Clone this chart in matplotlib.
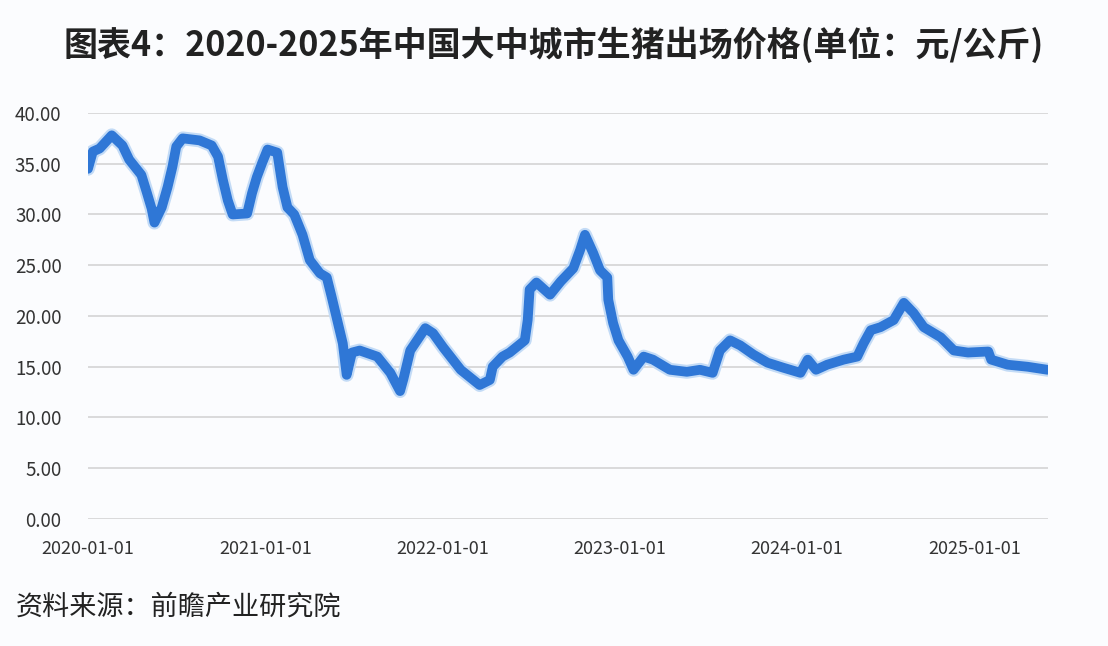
import matplotlib
matplotlib.use("Agg")
import matplotlib.pyplot as plt
import matplotlib.dates as mdates
import pandas as pd

plt.rcParams['font.family'] = ['Noto Sans CJK SC', 'DejaVu Sans']

# 生猪出场价格 (元/公斤)
dates = [
    "2020-01-01", "2020-01-11", "2020-01-25", "2020-02-19", "2020-03-12", "2020-03-26",
    "2020-04-20", "2020-05-01", "2020-05-11", "2020-05-17", "2020-06-01", "2020-06-13",
    "2020-06-23", "2020-07-01", "2020-07-14", "2020-08-18", "2020-09-12", "2020-09-25",
    "2020-10-05", "2020-10-15", "2020-10-25", "2020-11-24", "2020-12-04", "2020-12-14",
    "2020-12-25", "2021-01-05", "2021-01-25", "2021-02-05", "2021-02-15", "2021-03-01",
    "2021-03-18", "2021-04-02", "2021-04-23", "2021-05-07", "2021-05-17", "2021-05-30",
    "2021-06-09", "2021-06-17", "2021-06-28", "2021-07-14", "2021-08-19", "2021-09-15",
    "2021-10-05", "2021-10-12", "2021-10-26", "2021-11-26", "2021-12-12", "2022-01-02",
    "2022-02-07", "2022-03-18", "2022-04-08", "2022-04-14", "2022-05-04", "2022-05-19",
    "2022-06-19", "2022-06-25", "2022-06-29", "2022-07-13", "2022-08-10", "2022-09-01",
    "2022-09-27", "2022-10-11", "2022-10-21", "2022-11-07", "2022-11-21", "2022-12-06",
    "2022-12-08", "2022-12-18", "2022-12-29", "2023-01-17", "2023-01-29", "2023-02-19",
    "2023-03-10", "2023-04-14", "2023-05-19", "2023-06-15", "2023-07-11", "2023-07-26",
    "2023-08-16", "2023-09-06", "2023-10-03", "2023-11-01", "2023-12-04", "2024-01-08",
    "2024-01-23", "2024-02-09", "2024-03-03", "2024-04-06", "2024-05-04", "2024-05-17",
    "2024-06-01", "2024-06-21", "2024-07-18", "2024-08-08", "2024-08-28", "2024-09-18",
    "2024-10-23", "2024-11-19", "2024-12-18", "2025-01-29", "2025-02-04", "2025-03-10",
    "2025-04-20", "2025-05-31",
]
prices = [
    34.5, 36.2, 36.5, 37.8, 36.8, 35.4,
    33.9, 32.2, 30.6, 29.2, 30.7, 32.7,
    34.7, 36.7, 37.5, 37.3, 36.8, 35.7,
    33.4, 31.4, 30.0, 30.1, 32.1, 33.7,
    35.1, 36.4, 36.1, 32.7, 30.7, 30.0,
    28.0, 25.5, 24.2, 23.8, 21.9, 19.3,
    17.3, 14.2, 16.4, 16.6, 16.0, 14.4,
    12.6, 13.8, 16.6, 18.8, 18.3, 16.9,
    14.7, 13.2, 13.7, 15.0, 16.0, 16.4,
    17.6, 19.6, 22.6, 23.3, 22.1, 23.4,
    24.7, 26.5, 28.0, 26.2, 24.5, 23.8,
    21.6, 19.3, 17.6, 16.0, 14.7, 16.0,
    15.7, 14.7, 14.5, 14.7, 14.4, 16.6,
    17.6, 17.1, 16.2, 15.4, 14.9, 14.4,
    15.7, 14.7, 15.2, 15.7, 16.0, 17.3,
    18.6, 18.9, 19.6, 21.3, 20.3, 18.9,
    17.9, 16.6, 16.4, 16.5, 15.7, 15.2,
    15.0, 14.7,
]
x = pd.to_datetime(dates)

yticks = [0, 5, 10, 15, 20, 25, 30, 35, 40]
xticks = pd.to_datetime(["2020-01-01", "2021-01-01", "2022-01-01",
                         "2023-01-01", "2024-01-01", "2025-01-01"])

fig = plt.figure(figsize=(11.08, 6.46), dpi=100)
fig.patch.set_facecolor("#fbfcfe")
ax = fig.add_axes([0.0794, 0.1966, 0.866, 0.6285])
ax.set_facecolor("#fbfcfe")

# light halo under the thick line
ax.plot(x, prices, color="#c3dbf6", lw=10, solid_joinstyle="round",
        solid_capstyle="round", zorder=2)
ax.plot(x, prices, color="#2f77d6", lw=7, solid_joinstyle="round",
        solid_capstyle="round", zorder=3)

ax.set_ylim(0, 40)
ax.set_yticks(yticks)
ax.yaxis.set_major_formatter(plt.FormatStrFormatter("%.2f"))
ax.set_xlim(x[0], x[-1])
ax.set_xticks(xticks)
ax.xaxis.set_major_formatter(mdates.DateFormatter("%Y-%m-%d"))

ax.grid(axis="y", color="#d4d4d4", lw=1.2)
ax.set_axisbelow(True)
for s in ax.spines.values():
    s.set_visible(False)
ax.tick_params(axis="both", length=0, labelcolor="#333333")
ax.tick_params(axis="y", pad=19, labelsize=13.5)
ax.tick_params(axis="x", pad=15, labelsize=13)

fig.text(0.5, 0.93, "图表4：2020-2025年中国大中城市生猪出场价格(单位：元/公斤)",
         ha="center", va="center", fontsize=24.5, fontweight="bold", color="#222222")
fig.text(0.014, 0.06, "资料来源：前瞻产业研究院", ha="left", va="center",
         fontsize=19.5, color="#222222")

fig.savefig("out.png", dpi=100, facecolor=fig.get_facecolor())
